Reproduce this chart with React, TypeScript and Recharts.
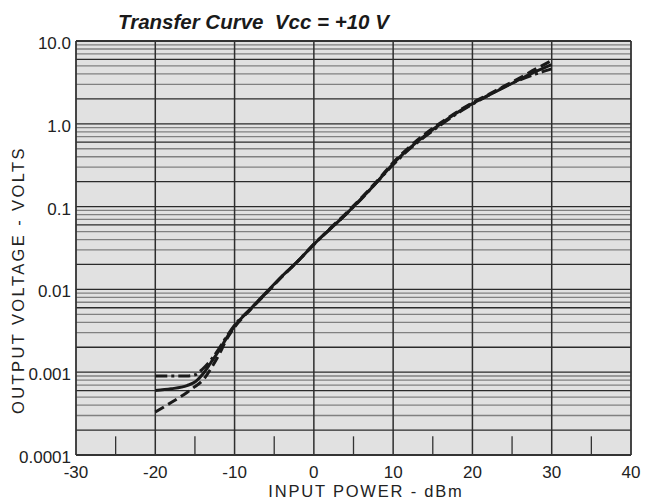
import React from "react";
import { LineChart, Line, XAxis, YAxis, CartesianGrid, ReferenceLine } from "recharts";

const inputPower = [-20, -18, -16, -15, -14, -13, -12, -11, -10, -8, -6, -4, -2, 0, 2, 4, 6, 8, 10, 12, 14, 16, 18, 20, 22, 24, 26, 28, 30];
const solidSeries = [0.0006, 0.00063, 0.00069, 0.00076, 0.00095, 0.0013, 0.0018, 0.0026, 0.0036, 0.0058, 0.0092, 0.0145, 0.022, 0.035, 0.053, 0.08, 0.125, 0.2, 0.33, 0.5, 0.72, 1.0, 1.35, 1.75, 2.2, 2.75, 3.45, 4.3, 5.2];
const dashedSeries = [0.00033, 0.00043, 0.00057, 0.00067, 0.0008, 0.0011, 0.0016, 0.0025, 0.0035, 0.0057, 0.009, 0.0143, 0.022, 0.035, 0.054, 0.082, 0.128, 0.205, 0.34, 0.52, 0.75, 1.03, 1.38, 1.8, 2.25, 2.85, 3.6, 4.6, 5.8];
const dashDotSeries = [0.0009, 0.0009, 0.0009, 0.00093, 0.0011, 0.0014, 0.0019, 0.0027, 0.0037, 0.0058, 0.0091, 0.0144, 0.022, 0.035, 0.053, 0.08, 0.124, 0.2, 0.32, 0.49, 0.7, 0.97, 1.32, 1.72, 2.2, 2.8, 3.4, 4.0, 4.6];

const xTicks = [-30, -20, -10, 0, 10, 20, 30, 40];
const yTicks = [0.0001, 0.001, 0.01, 0.1, 1, 10];
const yTickLabels = ["0.0001", "0.001", "0.01", "0.1", "1.0", "10.0"];
const halfTicks = [-25, -15, -5, 5, 15, 25, 35];
const decades = [0.0001, 0.001, 0.01, 0.1, 1];
const multipliers = [1, 2, 3, 4, 5, 6, 7, 8, 9];
const darkMultipliers = [1, 2, 6];

const data = inputPower.map((x, i) => ({
  x,
  solid: solidSeries[i],
  dashed: dashedSeries[i],
  dashdot: dashDotSeries[i],
}));

const gridLines: { v: number; dark: boolean }[] = [];
decades.forEach((d) => {
  multipliers.forEach((m) => {
    const v = +(d * m).toPrecision(3);
    if (v > 0.0001 && v < 10) gridLines.push({ v, dark: darkMultipliers.includes(m) });
  });
});

const FONT = "'Liberation Sans Narrow', 'Liberation Sans', Arial, sans-serif";
const LABEL_FONT = "'Liberation Sans', Arial, sans-serif";

export default function App() {
  return (
    <div style={{ position: "relative", width: 655, height: 493, fontFamily: FONT }}>
      <div
        style={{
          position: "absolute",
          left: 110,
          top: 2,
          fontFamily: LABEL_FONT,
          fontWeight: "bold",
          fontStyle: "italic",
          fontSize: 20.5,
          color: "#1a1a1a",
          whiteSpace: "pre",
        }}
      >
        {"Transfer Curve  Vcc = +10 V"}
      </div>
      <LineChart
        width={655}
        height={493}
        data={data}
        margin={{ top: 33, right: 32, left: 8, bottom: 16 }}
      >
        <CartesianGrid horizontal={false} vertical={false} fill="#e1e1e1" />
        {gridLines.map((g) => (
          <ReferenceLine
            key={"h" + g.v}
            y={g.v}
            stroke={g.dark ? "#2a2a2a" : "#808080"}
            strokeWidth={1.3}
          />
        ))}
        {xTicks.slice(1, -1).map((x) => (
          <ReferenceLine key={"v" + x} x={x} stroke="#2e2e2e" strokeWidth={1.5} />
        ))}
        {halfTicks.map((x) => (
          <ReferenceLine
            key={"t" + x}
            segment={[
              { x, y: 0.0001 },
              { x, y: 0.000168 },
            ]}
            stroke="#333"
            strokeWidth={1.3}
          />
        ))}
        <ReferenceLine y={10} stroke="#333" strokeWidth={1.8} />
        <ReferenceLine x={40} stroke="#333" strokeWidth={1.8} />
        <XAxis
          dataKey="x"
          type="number"
          domain={[-30, 40]}
          ticks={xTicks}
          tickSize={0}
          tickMargin={11}
          height={30}
          axisLine={{ stroke: "#333", strokeWidth: 1.8 }}
          tick={{ fill: "#222", fontSize: 17, fontFamily: FONT }}
          interval={0}
        />
        <YAxis
          type="number"
          scale="log"
          domain={[0.0001, 10]}
          ticks={yTicks}
          tickFormatter={(v: number) => yTickLabels[yTicks.indexOf(v)] ?? String(v)}
          tickSize={0}
          tickMargin={5}
          width={60}
          allowDataOverflow
          axisLine={{ stroke: "#333", strokeWidth: 1.8 }}
          tick={{ fill: "#222", fontSize: 17, fontFamily: FONT, dy: 2 }}
          interval={0}
        />
        <Line
          type="monotone"
          dataKey="solid"
          stroke="#1a1a1a"
          strokeWidth={3}
          dot={false}
          isAnimationActive={false}
        />
        <Line
          type="monotone"
          dataKey="dashed"
          stroke="#1a1a1a"
          strokeWidth={3}
          strokeDasharray="10 5"
          dot={false}
          isAnimationActive={false}
        />
        <Line
          type="monotone"
          dataKey="dashdot"
          stroke="#1a1a1a"
          strokeWidth={3}
          strokeDasharray="12 4 3 4"
          dot={false}
          isAnimationActive={false}
        />
      </LineChart>
      <div
        style={{
          position: "absolute",
          left: 358,
          top: 474,
          width: 0,
          height: 0,
        }}
      >
        <div
          style={{
            position: "absolute",
            left: 0,
            top: 0,
            transform: "translateX(-50%)",
            whiteSpace: "nowrap",
            fontFamily: LABEL_FONT,
            fontSize: 16.5,
            letterSpacing: 1.8,
            color: "#222",
          }}
        >
          INPUT POWER - dBm
        </div>
      </div>
      <div
        style={{
          position: "absolute",
          left: 10,
          top: 272,
          width: 0,
          height: 0,
        }}
      >
        <div
          style={{
            position: "absolute",
            left: 0,
            top: 0,
            transform: "translate(-50%, -50%) rotate(-90deg)",
            whiteSpace: "nowrap",
            fontFamily: LABEL_FONT,
            fontSize: 16.5,
            letterSpacing: 2.4,
            color: "#222",
          }}
        >
          OUTPUT VOLTAGE - VOLTS
        </div>
      </div>
    </div>
  );
}
